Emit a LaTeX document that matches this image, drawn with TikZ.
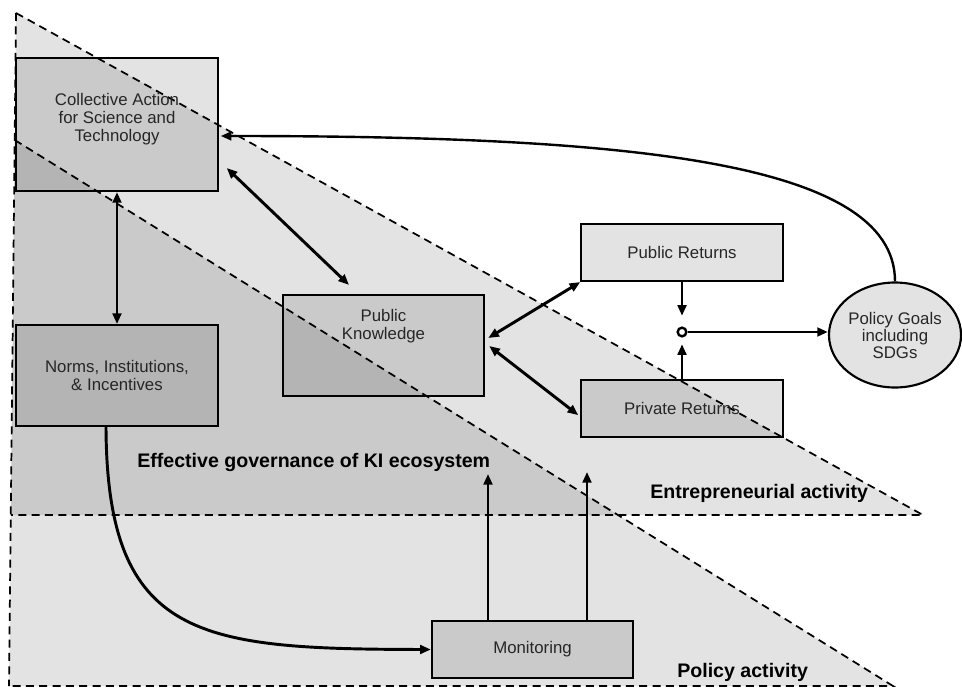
\documentclass[tikz,border=0pt]{standalone}
\usepackage{fontspec}
\setmainfont{Liberation Sans}
\usetikzlibrary{calc,positioning,arrows.meta,shapes.geometric}
\tikzset{box/.style={rectangle, draw=black, line width=1.6pt, fill=black, fill opacity=0.11,
                     text opacity=1, text=black!85, minimum width=151pt, align=center,
                     font=\fontsize{12.6pt}{13.5pt}\selectfont}}
\tikzset{zone/.style={fill=black, fill opacity=0.11}}
\tikzset{border/.style={line width=1.3pt, dash pattern=on 6pt off 4pt}}

\begin{document}
\begin{tikzpicture}[x=0.75pt, y=-0.75pt,
  arr/.style={-{Triangle[length=8pt, width=6.5pt]}, line width=2.2pt},
  dbl/.style={{Triangle[length=8pt, width=6.5pt]}-{Triangle[length=8pt, width=6.5pt]}, line width=2.2pt},
  lbl/.style={font=\fontsize{14.7pt}{16pt}\selectfont\bfseries, anchor=west, inner sep=0pt},
]
  \useasboundingbox (0,0) rectangle (962,688);

  % ---- Activity zones ----
  \fill[zone] (16,13) -- (10.8,515) -- (923,515) -- cycle;
  \fill[zone] (14.7,140) -- (9,686) -- (893,686) -- cycle;
  \draw[border] (16,13) -- (923,515) -- (10.8,515);
  \draw[border] (14.7,140) -- (893,686) -- (9,686);
  \draw[border] (16,13) -- (9,686);

  % ---- Boxes ----
  \node[box, minimum height=99.75pt, text depth=11pt] (ca) at (117,124.5)
      {Collective Action\\for Science and\\Technology};
  \node[box, minimum height=75.75pt, below=99pt of ca] (norms)
      {Norms, Institutions,\\\& Incentives};
  \node[box, minimum height=75.75pt, text depth=31.8pt] (pk) at (383.5,345.5)
      {Public\\Knowledge};
  \node[box, minimum height=42.75pt] (pubret) at (682,252.5) {Public Returns};
  \node[box, minimum height=42.75pt, below=72.75pt of pubret] (privret) {Private Returns};
  \node[box, minimum height=42.75pt] (mon) at (532.5,649.5) {Monitoring};
  \node[box, ellipse, minimum width=97pt, minimum height=78.75pt, inner sep=0pt,
        font=\fontsize{12.6pt}{12.75pt}\selectfont] (goals) at (895,335)
      {Policy Goals\\including\\SDGs};
  \node[circle, draw, line width=1.8pt, fill=white, inner sep=0pt, minimum size=6.5pt]
      (junction) at (682,332) {};

  % ---- Arrows ----
  \draw[dbl] (ca.south) -- (norms.north);
  \draw[dbl] ($(ca.east)+(8,43.5)$) -- ($(pk.north)+(-34.5,-9)$);
  \draw[dbl] ($(pk.east)+(3,-7.5)$) -- (pubret.south west);
  \draw[dbl] ($(pk.east)+(4,0.5)$) -- ($(privret.west)+(-2,6.5)$);
  \draw[arr, shorten >=8pt] (pubret.south) -- (junction.north);
  \draw[arr, shorten >=5pt] (junction |- privret.north) -- (junction.south);
  \draw[arr] (junction.east) -- (junction.east -| goals.west);

  % ---- Feedback and monitoring ----
  \draw[arr, line width=1.8pt] (goals.north)
    .. controls ($(goals.north)+(0,-122)$) and (620,136) .. ($(ca.east)+(2,11.5)$);
  \draw[arr] ($(norms.south)+(-11,0)$) .. controls (107,640) and (200,649) .. (mon.west);
  \draw[arr] ($(mon.north)+(-44.5,0)$) -- ++(0,-146);
  \draw[arr] ($(mon.north)+(54.5,0)$) -- ++(0,-148);

  % ---- Zone labels ----
  \node[lbl] (gov) at (137,462) {Effective governance of KI ecosystem};
  \node[lbl] (entre) at (650,493) {Entrepreneurial activity};
  \node[lbl] (policy) at (677,672) {Policy activity};
\end{tikzpicture}
\end{document}
